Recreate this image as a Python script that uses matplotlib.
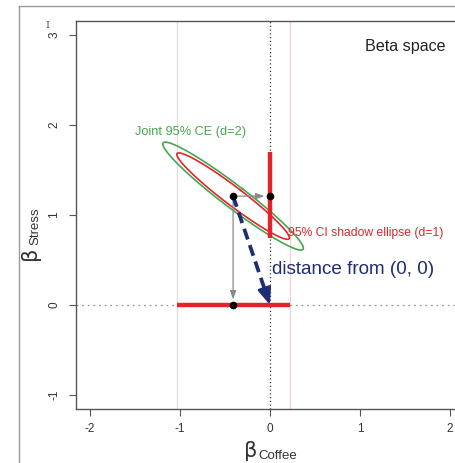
import numpy as np
import matplotlib
matplotlib.use("Agg")
import matplotlib.pyplot as plt
from matplotlib.lines import Line2D

# Estimates
beta_coffee = -0.41
beta_stress = 1.21
se_coffee = 0.319
se_stress = 0.245
corr = -0.964

# 95% CI limits (shadow of the d=1 ellipse)
ci_coffee = [-1.03, 0.22]
ci_stress = [0.74, 1.70]

# ellipse radii: sqrt(qchisq(.95, d))
radius_d1 = 1.96
radius_d2 = 2.448

x_ticks = [-2, -1, 0, 1, 2]
y_ticks = [-1, 0, 1, 2, 3]

red = "#e3242b"
green = "#45a84f"
navy = "#1f2d72"
gray = "#8a8a8a"
font = "Liberation Sans"

fig = plt.figure(figsize=(4.55, 4.63), dpi=100)
fig.patch.set_facecolor("white")

# axes placed by pixel position (right part is cropped off in the reference)
W, H = 455, 463
left, right, top, bottom = 75.6, 464.4, 20.6, 409.4
ax = fig.add_axes([left / W, 1 - bottom / H, (right - left) / W, (bottom - top) / H])
ax.set_xlim(-2.16, 2.16)
ax.set_ylim(-1.16, 3.16)

for s in ax.spines.values():
    s.set_color("#555555")
    s.set_linewidth(1.0)

ax.set_xticks(x_ticks)
ax.set_yticks(y_ticks)
ax.set_xticklabels([str(v) for v in x_ticks], family=font)
ax.set_yticklabels([str(v) for v in y_ticks], rotation=90, va="center", family=font)
ax.tick_params(direction="out", length=5, width=0.8, color="#555555",
               labelsize=8.5, labelcolor="#333333")
ax.tick_params(axis="x", pad=5)
ax.tick_params(axis="y", pad=6)

# light reference lines at the ends of the coffee CI
ax.axvline(ci_coffee[0], color="#e4dadc", lw=0.9, zorder=1)
ax.axvline(ci_coffee[1], color="#f2d2d8", lw=0.9, zorder=1)

# dotted zero lines
ax.axvline(0, color="#333333", lw=0.9, linestyle=(0, (1, 2)), zorder=1)
ax.axhline(0, color="#999999", lw=0.9, linestyle=(0, (1.5, 3)), zorder=1)


# confidence ellipses
def ellipse(cx, cy, sx, sy, r, c, n=200):
    t = np.linspace(0, 2 * np.pi, n)
    d = np.arccos(r)
    return cx + c * sx * np.cos(t + d / 2), cy + c * sy * np.cos(t - d / 2)


ex, ey = ellipse(beta_coffee, beta_stress, se_coffee, se_stress, corr, radius_d2)
ax.plot(ex, ey, color=green, lw=1.2, zorder=3)
ex, ey = ellipse(beta_coffee, beta_stress, se_coffee, se_stress, corr, radius_d1)
ax.plot(ex, ey, color=red, lw=1.2, zorder=3)

# CI bars on the axes
ax.plot(ci_coffee, [0, 0], color=red, lw=3.2, solid_capstyle="butt", zorder=4)
ax.plot([0, 0], ci_stress, color=red, lw=3.2, solid_capstyle="butt", zorder=4)

# projection arrows
ax.annotate("", xy=(0, beta_stress), xytext=(beta_coffee, beta_stress),
            arrowprops=dict(arrowstyle="-|>,head_length=0.5,head_width=0.18",
                            color=gray, lw=0.9, shrinkA=0, shrinkB=4), zorder=5)
ax.annotate("", xy=(beta_coffee, 0), xytext=(beta_coffee, beta_stress),
            arrowprops=dict(arrowstyle="-|>,head_length=0.5,head_width=0.18",
                            color=gray, lw=0.9, shrinkA=0, shrinkB=4), zorder=5)

# distance arrow
frac = 0.86
mx, my = beta_coffee * (1 - frac), beta_stress * (1 - frac)
ax.plot([beta_coffee, mx], [beta_stress, my], color=navy, lw=2.7,
        linestyle=(0, (3, 1.6)), zorder=6)
ax.annotate("", xy=(0, 0), xytext=(mx, my),
            arrowprops=dict(arrowstyle="-|>,head_length=1.0,head_width=0.4",
                            color=navy, lw=2.0, shrinkA=0, shrinkB=0), zorder=6)

# points
ax.plot([beta_coffee, 0, beta_coffee], [beta_stress, beta_stress, 0], "o",
        color="black", ms=4.5, zorder=7)

# labels inside the plot
ax.text(1.5, 2.87, "Beta space", fontsize=11.6, family=font,
        ha="center", va="center", color="#222222")
ax.text(-0.88, 1.92, "Joint 95% CE (d=2)", fontsize=9.2, family=font,
        ha="center", va="center", color=green)
ax.text(0.2, 0.8, "95% CI shadow ellipse (d=1)", fontsize=8.7, family=font,
        ha="left", va="center", color=red)
ax.text(0.02, 0.39, "distance from (0, 0)", fontsize=13.6, family=font,
        ha="left", va="center", color=navy)

# axis titles: upright beta with a sans subscript
fig.text(251 / W, 1 - 451 / H, "β", family="DejaVu Sans", fontsize=15,
         ha="center", va="center", color="#333333")
fig.text(258 / W, 1 - 456 / H, "Coffee", family=font, fontsize=9.5,
         ha="left", va="center", color="#333333")
fig.text(30 / W, 1 - 253 / H, "β", family="DejaVu Sans", fontsize=15, rotation=90,
         ha="center", va="center", color="#333333")
fig.text(35 / W, 1 - 245 / H, "Stress", family=font, fontsize=9.5, rotation=90,
         ha="center", va="bottom", color="#333333")

# cursor mark and outer frame from the slide
fig.text(47 / W, 1 - 25 / H, "I", family="DejaVu Serif", fontsize=7,
         ha="center", va="center", color="#555555")
fig.add_artist(Line2D([19 / W, 19 / W], [0, 1 - 6 / H], color="#9a9a9a", lw=1.0))
fig.add_artist(Line2D([19 / W, 1], [1 - 6 / H, 1 - 6 / H], color="#9a9a9a", lw=1.0))

fig.savefig("out.png", dpi=100)
